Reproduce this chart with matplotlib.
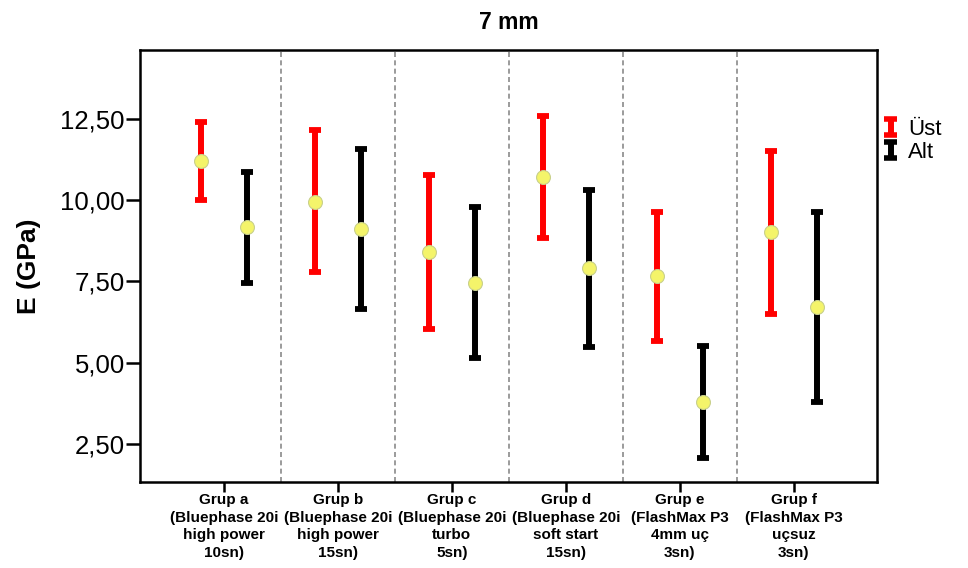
import matplotlib
matplotlib.use("Agg")
import matplotlib.pyplot as plt
import numpy as np
from matplotlib.lines import Line2D
from matplotlib.legend_handler import HandlerBase

plt.rcParams['font.family'] = ['Liberation Sans', 'DejaVu Sans']

categories = [
    "Grup a\n(Bluephase 20i\nhigh power\n10sn)",
    "Grup b\n(Bluephase 20i\nhigh power\n15sn)",
    "Grup c\n(Bluephase 20i\nturbo\n5sn)",
    "Grup d\n(Bluephase 20i\nsoft start\n15sn)",
    "Grup e\n(FlashMax P3\n4mm uç\n3sn)",
    "Grup f\n(FlashMax P3\nuçsuz\n3sn)",
]
ust_mean = [11.19, 9.95, 8.41, 10.72, 7.67, 9.02]
ust_low = [10.01, 7.79, 6.04, 8.84, 5.67, 6.50]
ust_high = [12.39, 12.16, 10.78, 12.59, 9.64, 11.52]
alt_mean = [9.17, 9.12, 7.45, 7.92, 3.80, 6.72]
alt_low = [7.46, 6.65, 5.15, 5.48, 2.08, 3.79]
alt_high = [10.88, 11.58, 9.79, 10.32, 5.52, 9.64]
yticks = [2.5, 5.0, 7.5, 10.0, 12.5]
ytick_labels = ["2,50", "5,00", "7,50", "10,00", "12,50"]

fig = plt.figure(figsize=(9.68, 5.68), dpi=100)
ax = fig.add_axes([140/968, 86/568, 737/968, 432/568])

x = np.arange(len(categories))
off = 0.2
for means, lows, highs, col, dx in [(ust_mean, ust_low, ust_high, '#ff0000', -off),
                                     (alt_mean, alt_low, alt_high, '#000000', off)]:
    m = np.array(means); lo = np.array(lows); hi = np.array(highs)
    ax.errorbar(x + dx, m, yerr=[m - lo, hi - m], fmt='none', ecolor=col,
                elinewidth=4.3, capsize=4.5, capthick=4.2, zorder=3)
    ax.plot(x + dx, m, 'o', ms=10, mfc='#f4f46a', mec='#c8d08c', mew=0.8, zorder=4)

for b in x[:-1] + 0.5:
    ax.axvline(b, color='#8a8a8a', ls=(0, (3, 2)), lw=1.2, zorder=1)

ax.set_xlim(-0.737, 5.73)
ax.set_ylim(1.33, 14.62)
ax.set_yticks(yticks)
ax.set_yticklabels(ytick_labels, fontsize=18.5)
ax.set_xticks(x)
ax.set_xticklabels(categories, fontsize=11, fontweight='bold', linespacing=1.32)
ax.tick_params(axis='both', direction='out', width=1.8, color='black')
ax.tick_params(axis='y', length=10, pad=1)
ax.tick_params(axis='x', length=7, pad=1)
for s in ax.spines.values():
    s.set_linewidth(1.8)
ax.set_ylabel("E (GPa)", fontsize=19, fontweight='bold', labelpad=14)
ax.set_title("7 mm", fontsize=16.5, fontweight='bold', pad=15)


class IBarHandler(HandlerBase):
    def create_artists(self, legend, orig_handle, xdescent, ydescent, width, height, fontsize, trans):
        col = orig_handle.get_color()
        cx = width / 2 - xdescent
        y0 = -ydescent
        y1 = height - ydescent
        v = Line2D([cx, cx], [y0, y1], color=col, lw=4.3, transform=trans, solid_capstyle='butt')
        c1 = Line2D([cx - 4.5, cx + 4.5], [y0, y0], color=col, lw=4, transform=trans, solid_capstyle='butt')
        c2 = Line2D([cx - 4.5, cx + 4.5], [y1, y1], color=col, lw=4, transform=trans, solid_capstyle='butt')
        return [v, c1, c2]


h1 = Line2D([], [], color='#ff0000')
h2 = Line2D([], [], color='#000000')
fig.legend([h1, h2], ["Üst", "Alt"], handler_map={Line2D: IBarHandler()},
           loc='upper left', bbox_to_anchor=(884/968, 1 - 119/568), frameon=False,
           fontsize=16, handlelength=0.6, handletextpad=0.5, labelspacing=0.08,
           borderaxespad=0, borderpad=0)

fig.savefig("out.png", dpi=100)
